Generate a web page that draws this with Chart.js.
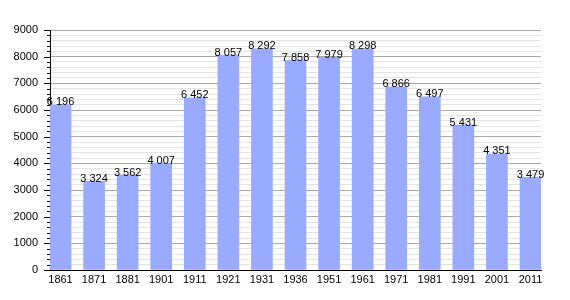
<!DOCTYPE html>
<html>
<head>
<meta charset="utf-8">
<script src="https://cdn.jsdelivr.net/npm/chart.js@4/dist/chart.umd.min.js"></script>
<style>
html,body{margin:0;padding:0;background:#fff;}
canvas{display:block;}
</style>
</head>
<body>
<canvas id="c" width="570" height="300"></canvas>
<script>
const years = ["1861","1871","1881","1901","1911","1921","1931","1936","1951","1961","1971","1981","1991","2001","2011"];
const population = [6196,3324,3562,4007,6452,8057,8292,7858,7979,8298,6866,6497,5431,4351,3479];
const yMax = 9000;
const yMajorStep = 1000;
const yMinorStep = 200;

const FONT = '"Liberation Sans", Arial, sans-serif';
const fmt = v => String(v).replace(/\B(?=(\d{3})+(?!\d))/g, ' ');

const BAR_W = 21;
const PLOT_W = 491;
const halfUnits = (BAR_W / 2) / ((PLOT_W - BAR_W) / (years.length - 1));

const extras = {
  id: 'extras',
  afterDraw(chart) {
    const ctx = chart.ctx;
    const ys = chart.scales.y;
    const area = chart.chartArea;
    ctx.save();
    ctx.strokeStyle = '#000';
    ctx.lineWidth = 1;
    ys.ticks.forEach(t => {
      const py = Math.round(ys.getPixelForValue(t.value)) + 0.5;
      const len = (t.value % yMajorStep === 0) ? 6 : 3;
      ctx.beginPath();
      ctx.moveTo(area.left - len, py);
      ctx.lineTo(area.left, py);
      ctx.stroke();
    });
    ctx.restore();
  },
  afterDatasetsDraw(chart) {
    const ctx = chart.ctx;
    const meta = chart.getDatasetMeta(0);
    ctx.save();
    ctx.font = '11px ' + FONT;
    ctx.fillStyle = '#000';
    ctx.textAlign = 'center';
    ctx.textBaseline = 'alphabetic';
    meta.data.forEach((el, i) => {
      ctx.fillText(fmt(population[i]), el.x, el.y + 0.5);
    });
    ctx.restore();
  }
};

new Chart(document.getElementById('c'), {
  type: 'bar',
  data: {
    datasets: [{
      data: population.map((v, i) => ({x: i, y: v})),
      backgroundColor: 'rgb(153,170,255)',
      borderWidth: 0,
      barThickness: BAR_W
    }]
  },
  options: {
    responsive: false,
    animation: false,
    events: [],
    layout: {padding: {top: 30, right: 29, left: 0, bottom: 0}},
    plugins: {legend: {display: false}, tooltip: {enabled: false}},
    scales: {
      x: {
        type: 'linear',
        offset: false,
        min: -halfUnits,
        max: years.length - 1 + halfUnits,
        afterBuildTicks: s => { s.ticks = years.map((_, i) => ({value: i})); },
        afterFit: s => { s.height = 30; },
        grid: {display: true, color: 'rgba(0,0,0,0)', drawTicks: false},
        border: {display: true, color: '#000', width: 1},
        ticks: {
          autoSkip: false,
          maxRotation: 0,
          padding: 3,
          color: '#000',
          font: {family: FONT, size: 11},
          callback: v => years[v] ?? ''
        }
      },
      y: {
        min: 0,
        max: yMax,
        afterBuildTicks: s => {
          const t = [];
          for (let v = 0; v <= yMax; v += yMinorStep) t.push({value: v});
          s.ticks = t;
        },
        afterFit: s => { s.width = 50; },
        grid: {
          drawTicks: false,
          color: c => (c.tick && c.tick.value % yMajorStep === 0) ? '#a8a8a8' : '#e4e4e4'
        },
        border: {display: true, color: '#000', width: 1},
        ticks: {
          autoSkip: false,
          padding: 12,
          color: '#000',
          font: {family: FONT, size: 11},
          callback: v => (v % yMajorStep === 0) ? String(v) : ''
        }
      }
    }
  },
  plugins: [extras]
});
</script>
</body>
</html>
